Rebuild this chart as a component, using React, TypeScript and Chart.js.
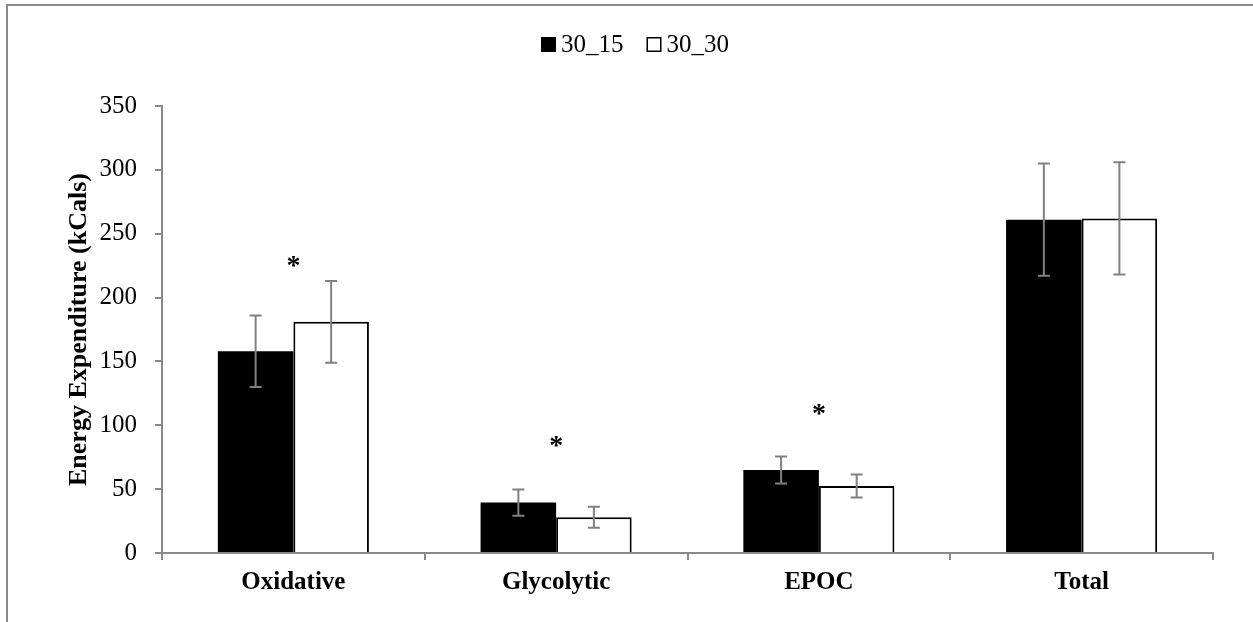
import React, { useEffect, useRef } from 'react';
import { Chart, registerables } from 'chart.js';

Chart.register(...registerables);

const categories = ['Oxidative', 'Glycolytic', 'EPOC', 'Total'];
const seriesNames = ['30_15', '30_30'];
const values3015 = [158, 39.5, 65, 261];
const errors3015 = [28, 10.3, 10.5, 44];
const values3030 = [181, 28, 52.5, 262];
const errors3030 = [32, 8.2, 9, 44];
const asteriskLevels: (number | null)[] = [228, 87, 112, null];
const yMin = 0;
const yMax = 350;
const yStep = 50;
const yTitle = 'Energy Expenditure (kCals)';

const SERIF = '"Liberation Serif", "Times New Roman", serif';
const AXIS_GRAY = '#898989';
const ERR_GRAY = '#808080';

const errorBarPlugin = {
  id: 'errorBars',
  afterDatasetsDraw(chart: any) {
    const ctx = chart.ctx;
    const ys = chart.scales.y;
    chart.data.datasets.forEach((ds: any, i: number) => {
      const meta = chart.getDatasetMeta(i);
      meta.data.forEach((bar: any, j: number) => {
        const v = ds.data[j];
        const e = ds.errors[j];
        const top = ys.getPixelForValue(v + e);
        const bot = ys.getPixelForValue(v - e);
        const x = bar.x;
        ctx.save();
        ctx.strokeStyle = ERR_GRAY;
        ctx.lineWidth = 2;
        ctx.beginPath();
        ctx.moveTo(x, top);
        ctx.lineTo(x, bot);
        ctx.moveTo(x - 6, top);
        ctx.lineTo(x + 6, top);
        ctx.moveTo(x - 6, bot);
        ctx.lineTo(x + 6, bot);
        ctx.stroke();
        ctx.restore();
      });
    });
  },
};

const asteriskPlugin = {
  id: 'asterisks',
  afterDatasetsDraw(chart: any) {
    const ctx = chart.ctx;
    const xs = chart.scales.x;
    const ys = chart.scales.y;
    ctx.save();
    ctx.fillStyle = '#000';
    ctx.font = `bold 28px ${SERIF}`;
    ctx.textAlign = 'center';
    ctx.textBaseline = 'alphabetic';
    const m = ctx.measureText('*');
    const asc = m.actualBoundingBoxAscent;
    const desc = m.actualBoundingBoxDescent;
    asteriskLevels.forEach((lvl, j) => {
      if (lvl === null) return;
      const x = xs.getPixelForValue(j);
      const yc = ys.getPixelForValue(lvl);
      ctx.fillText('*', x, yc + (asc - desc) / 2);
    });
    ctx.restore();
  },
};

const legendPlugin = {
  id: 'customLegend',
  afterDraw(chart: any) {
    const ctx = chart.ctx;
    ctx.save();
    ctx.font = `25px ${SERIF}`;
    ctx.textBaseline = 'alphabetic';
    ctx.textAlign = 'left';
    const box = 15;
    const gapBT = 5;
    const gapItem = 23;
    const items = chart.data.datasets.map((ds: any) => ({
      label: ds.label,
      fill: ds.backgroundColor,
    }));
    const widths = items.map((it: any) => box + gapBT + ctx.measureText(it.label).width);
    const total = widths.reduce((a: number, b: number) => a + b, 0) + gapItem * (items.length - 1);
    let x = 635 - total / 2;
    const boxTop = 37;
    const baseline = 52;
    items.forEach((it: any, i: number) => {
      ctx.fillStyle = it.fill;
      ctx.fillRect(x, boxTop, box, box);
      ctx.strokeStyle = '#000';
      ctx.lineWidth = 1.5;
      ctx.strokeRect(x + 0.75, boxTop + 0.75, box - 1.5, box - 1.5);
      ctx.fillStyle = '#000';
      ctx.fillText(it.label, x + box + gapBT, baseline);
      x += widths[i] + gapItem;
    });
    ctx.restore();
  },
};

export default function App() {
  const canvasRef = useRef<HTMLCanvasElement | null>(null);

  useEffect(() => {
    if (!canvasRef.current) return;
    const chart = new Chart(canvasRef.current, {
      type: 'bar',
      data: {
        labels: categories,
        datasets: [
          {
            label: seriesNames[0],
            data: values3015,
            errors: errors3015,
            backgroundColor: '#000000',
            borderColor: '#000000',
            borderWidth: 0,
            categoryPercentage: 0.575,
            barPercentage: 1,
          } as any,
          {
            label: seriesNames[1],
            data: values3030,
            errors: errors3030,
            backgroundColor: '#ffffff',
            borderColor: '#000000',
            borderWidth: 2,
            categoryPercentage: 0.575,
            barPercentage: 1,
          } as any,
        ],
      },
      options: {
        animation: false,
        responsive: true,
        maintainAspectRatio: false,
        layout: { padding: { top: 106, right: 40, bottom: 0, left: 0 } },
        plugins: {
          legend: { display: false },
          tooltip: { enabled: false },
        },
        scales: {
          x: {
            ticks: {
              color: '#000',
              font: { family: SERIF, size: 25, weight: 'bold' },
              padding: 8,
            },
            grid: {
              display: true,
              offset: true,
              drawOnChartArea: false,
              drawTicks: true,
              tickLength: 7,
              color: AXIS_GRAY,
              lineWidth: 2,
            },
            border: { display: true, color: AXIS_GRAY, width: 2 },
            afterFit: (s: any) => {
              s.height = 69;
            },
          },
          y: {
            min: yMin,
            max: yMax,
            ticks: {
              stepSize: yStep,
              color: '#000',
              font: { family: SERIF, size: 25 },
              padding: 18,
            },
            grid: {
              display: true,
              drawOnChartArea: false,
              drawTicks: true,
              tickLength: 7,
              color: AXIS_GRAY,
              lineWidth: 2,
            },
            border: { display: true, color: AXIS_GRAY, width: 2 },
            title: {
              display: true,
              text: yTitle,
              color: '#000',
              font: { family: SERIF, size: 26, weight: 'bold' },
              padding: { top: 64, bottom: 0 },
            },
            afterFit: (s: any) => {
              s.width = 162;
            },
          },
        },
      } as any,
      plugins: [errorBarPlugin, asteriskPlugin, legendPlugin],
    });
    return () => chart.destroy();
  }, []);

  return (
    <div
      style={{
        position: 'fixed',
        left: 0,
        top: 0,
        width: 1253,
        height: 622,
        overflow: 'hidden',
        background: '#ffffff',
      }}
    >
      <div
        style={{
          position: 'absolute',
          left: 6,
          top: 4,
          width: 1400,
          height: 800,
          border: '2px solid #8a8a8a',
          boxSizing: 'border-box',
          pointerEvents: 'none',
        }}
      />
      <div style={{ position: 'absolute', left: 0, top: 0, width: 1253, height: 622 }}>
        <canvas ref={canvasRef} />
      </div>
    </div>
  );
}
